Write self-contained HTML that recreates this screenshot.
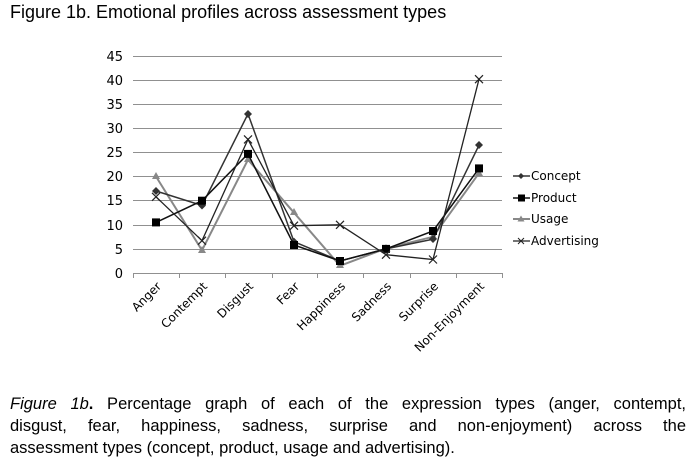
<!DOCTYPE html>
<html><head><style>
html,body{margin:0;padding:0;background:#fff;}
body{width:692px;height:464px;position:relative;overflow:hidden;font-family:"Liberation Sans",Arial,sans-serif;}
.title{position:absolute;left:10px;top:2px;font-size:18px;color:#000;}
.cap{position:absolute;left:10px;top:393px;width:676px;font-size:16.5px;line-height:22px;color:#000;}
.cap div{white-space:nowrap;}
.j{text-align:justify;text-align-last:justify;}
svg{position:absolute;left:0;top:0;}
</style></head><body>
<div class="title">Figure 1b. Emotional profiles across assessment types</div>
<svg width="692" height="464" font-family="DejaVu Sans, Liberation Sans, sans-serif">
<g stroke="#909090" stroke-width="1">
<line x1="133" x2="502" y1="56.5" y2="56.5"/><line x1="133" x2="502" y1="80.5" y2="80.5"/><line x1="133" x2="502" y1="104.5" y2="104.5"/><line x1="133" x2="502" y1="128.5" y2="128.5"/><line x1="133" x2="502" y1="152.5" y2="152.5"/><line x1="133" x2="502" y1="176.5" y2="176.5"/><line x1="133" x2="502" y1="200.5" y2="200.5"/><line x1="133" x2="502" y1="225.5" y2="225.5"/><line x1="133" x2="502" y1="249.5" y2="249.5"/>
<line x1="133" x2="502" y1="273.5" y2="273.5"/>
<line x1="133.5" x2="133.5" y1="273" y2="278"/><line x1="179.5" x2="179.5" y1="273" y2="278"/><line x1="225.5" x2="225.5" y1="273" y2="278"/><line x1="272.5" x2="272.5" y1="273" y2="278"/><line x1="317.5" x2="317.5" y1="273" y2="278"/><line x1="363.5" x2="363.5" y1="273" y2="278"/><line x1="410.5" x2="410.5" y1="273" y2="278"/><line x1="456.5" x2="456.5" y1="273" y2="278"/><line x1="502.5" x2="502.5" y1="273" y2="278"/>
</g>
<g font-size="13" text-anchor="end" fill="#000">
<text x="123" y="61">45</text><text x="123" y="85">40</text><text x="123" y="109">35</text><text x="123" y="133">30</text><text x="123" y="157">25</text><text x="123" y="181">20</text><text x="123" y="205">15</text><text x="123" y="230">10</text><text x="123" y="254">5</text><text x="123" y="278">0</text>
</g>
<g font-size="12" text-anchor="end" fill="#000">
<text transform="translate(162,287) rotate(-45)">Anger</text>
<text transform="translate(208,287) rotate(-45)">Contempt</text>
<text transform="translate(254,287) rotate(-45)">Disgust</text>
<text transform="translate(300,287) rotate(-45)">Fear</text>
<text transform="translate(346,287) rotate(-45)">Happiness</text>
<text transform="translate(392,287) rotate(-45)">Sadness</text>
<text transform="translate(439,287) rotate(-45)">Surprise</text>
<text transform="translate(485,287) rotate(-45)">Non-Enjoyment</text>
</g>
<!-- Usage -->
<polyline fill="none" stroke="#888" stroke-width="2" points="156,176.5 202,250.3 248,159.7 294,212.7 340,265.8 386,248.4 433,236.8 479,173.2"/>
<g fill="#888"><path d="M156,172 l4,7 h-8z"/><path d="M202,246 l4,7 h-8z"/><path d="M248,155 l4,7 h-8z"/><path d="M294,208 l4,7 h-8z"/><path d="M340,261 l4,7 h-8z"/><path d="M386,244 l4,7 h-8z"/><path d="M433,232 l4,7 h-8z"/><path d="M479,169 l4,7 h-8z"/></g>
<!-- Concept -->
<polyline fill="none" stroke="#333" stroke-width="1.5" points="156,191 202,205.5 248,113.9 294,241.7 340,261 386,248.9 433,239.2 479,145.2"/>
<g fill="#333"><path d="M156,187 l4,4 -4,4 -4,-4z"/><path d="M202,201.5 l4,4 -4,4 -4,-4z"/><path d="M248,110 l4,4 -4,4 -4,-4z"/><path d="M294,237.7 l4,4 -4,4 -4,-4z"/><path d="M340,257 l4,4 -4,4 -4,-4z"/><path d="M386,245 l4,4 -4,4 -4,-4z"/><path d="M433,235 l4,4 -4,4 -4,-4z"/><path d="M479,141 l4,4 -4,4 -4,-4z"/></g>
<!-- Product -->
<polyline fill="none" stroke="#111" stroke-width="1.5" points="156,222.4 202,200.7 248,153.9 294,245 340,261 386,248.9 433,231 479,168.4"/>
<g fill="#000"><rect x="152" y="218.4" width="8" height="8"/><rect x="198" y="196.7" width="8" height="8"/><rect x="244" y="149.9" width="8" height="8"/><rect x="290" y="241" width="8" height="8"/><rect x="336" y="257" width="8" height="8"/><rect x="382" y="244.9" width="8" height="8"/><rect x="429" y="227" width="8" height="8"/><rect x="475" y="164.4" width="8" height="8"/></g>
<!-- Advertising -->
<polyline fill="none" stroke="#222" stroke-width="1.3" points="156,196.8 202,240.7 248,139.4 294,225.7 340,224.8 386,254.7 433,259.5 479,79.2"/>
<g stroke="#222" stroke-width="1.2" fill="none">
<path d="M152,192.8l8,8m0,-8l-8,8"/><path d="M198,236.7l8,8m0,-8l-8,8"/><path d="M244,135.4l8,8m0,-8l-8,8"/><path d="M290,221.7l8,8m0,-8l-8,8"/><path d="M336,220.8l8,8m0,-8l-8,8"/><path d="M382,250.7l8,8m0,-8l-8,8"/><path d="M429,255.5l8,8m0,-8l-8,8"/><path d="M475,75.2l8,8m0,-8l-8,8"/>
</g>
<!-- Legend -->
<g font-size="12" fill="#000">
<line x1="513" x2="530" y1="176" y2="176" stroke="#333" stroke-width="1.5"/><path d="M521,173 l3,3 -3,3 -3,-3z" fill="#333"/><text x="531" y="180">Concept</text>
<line x1="513" x2="530" y1="198" y2="198" stroke="#111" stroke-width="1.5"/><rect x="518" y="194.5" width="7" height="7"/><text x="531" y="202">Product</text>
<line x1="513" x2="530" y1="219" y2="219" stroke="#888" stroke-width="2"/><path d="M521,215.5 l3.5,6 h-7z" fill="#888"/><text x="531" y="223">Usage</text>
<line x1="513" x2="530" y1="241" y2="241" stroke="#222" stroke-width="1.2"/><path d="M518,238l6,6m0,-6l-6,6" stroke="#222"/><text x="531" y="245">Advertising</text>
</g>
</svg>
<div class="cap">
<div class="j"><i>Figure 1b</i><b>.</b> Percentage graph of each of the expression types (anger, contempt,</div>
<div class="j">disgust, fear, happiness, sadness, surprise and non-enjoyment) across the</div>
<div>assessment types (concept, product, usage and advertising).</div>
</div>
</body></html>
